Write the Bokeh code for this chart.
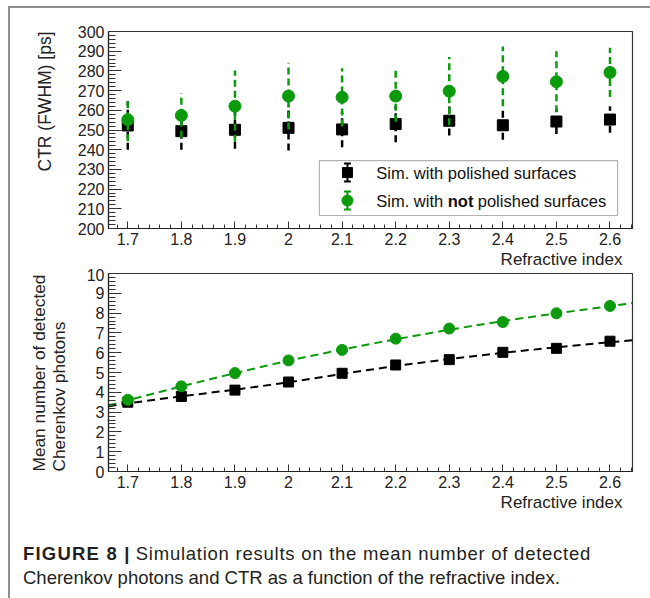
from bokeh.plotting import figure
from bokeh.models import FixedTicker, Label, BoxAnnotation, Whisker, ColumnDataSource, Div, Range1d, TeeHead, Title
from bokeh.layouts import column
from bokeh.embed import file_html
from bokeh.resources import INLINE

# ---------------- data ----------------
refractive_index = [1.7, 1.8, 1.9, 2.0, 2.1, 2.2, 2.3, 2.4, 2.5, 2.6]
x_tick_labels = ["1.7", "1.8", "1.9", "2", "2.1", "2.2", "2.3", "2.4", "2.5", "2.6"]

ctr_polished = [252.3, 249.4, 250.1, 251.1, 250.3, 253.0, 254.7, 252.4, 254.3, 255.3]
ctr_polished_err = [12.3, 9.4, 9.6, 11.5, 9.0, 9.2, 7.5, 7.4, 6.3, 6.7]
ctr_not_polished = [255.2, 257.4, 262.1, 267.2, 266.6, 267.2, 269.7, 277.2, 274.5, 279.2]
ctr_not_polished_err = [10.9, 11.3, 18.1, 16.9, 14.8, 13.0, 17.3, 15.2, 15.5, 12.5]

photons_polished = [3.50, 3.79, 4.11, 4.52, 4.96, 5.38, 5.65, 6.02, 6.22, 6.58]
photons_not_polished = [3.62, 4.30, 4.97, 5.61, 6.14, 6.71, 7.22, 7.55, 7.99, 8.36]

fit_index = [1.664, 1.7, 1.8, 1.9, 2.0, 2.1, 2.2, 2.3, 2.4, 2.5, 2.6, 2.642]
fit_polished = [3.30, 3.44, 3.80, 4.13, 4.50, 4.93, 5.33, 5.68, 6.00, 6.27, 6.53, 6.63]
fit_not_polished = [3.33, 3.60, 4.30, 4.97, 5.60, 6.16, 6.68, 7.16, 7.60, 7.99, 8.35, 8.51]

ctr_ticks = [200, 210, 220, 230, 240, 250, 260, 270, 280, 290, 300]
photon_ticks = [0, 1, 2, 3, 4, 5, 6, 7, 8, 9, 10]

legend_labels = ["Sim. with polished surfaces", "Sim. with ", "not", "polished surfaces"]
x_title = "Refractive index"
ctr_title = "CTR (FWHM) [ps]"
photon_title = ["Mean number of detected", "Cherenkov photons"]

# ---------------- style ----------------
FONT = "Liberation Sans"
GREEN = "#0b9a0b"
X0, X1 = 1.664, 2.642
x_minor = [round(1.66 + 0.02 * i, 2) for i in range(50)]


def style(p, yticks, yminor):
    p.xgrid.visible = False
    p.ygrid.visible = False
    p.outline_line_color = "#333333"
    p.outline_line_width = 1.2
    p.background_fill_color = "white"
    p.border_fill_color = "white"
    p.xaxis.ticker = FixedTicker(ticks=refractive_index, minor_ticks=x_minor)
    p.xaxis.major_label_overrides = dict(zip(refractive_index, x_tick_labels))
    p.yaxis.ticker = FixedTicker(ticks=yticks, minor_ticks=yminor)
    for ax in (p.xaxis[0], p.yaxis[0]):
        ax.axis_line_color = "#222222"
        ax.axis_line_width = 1.2
        ax.major_tick_out = 0
        ax.minor_tick_out = 0
        ax.major_tick_line_color = "#333333"
        ax.minor_tick_line_color = "#333333"
        ax.major_label_text_font = FONT
        ax.major_label_text_font_size = "16px"
        ax.major_label_text_color = "#222222"
        ax.major_label_standoff = 4
    p.xaxis.major_tick_in = 7
    p.xaxis.minor_tick_in = 4
    p.yaxis.major_tick_in = 13
    p.yaxis.minor_tick_in = 7


def title(text, align, offset, standoff, size="17px"):
    return Title(text=text, align=align, offset=offset, standoff=standoff,
                 text_font=FONT, text_font_size=size, text_font_style="normal",
                 text_color="#222222")


# ---------------- top plot: CTR ----------------
top = figure(width=640, height=260, output_backend="svg", toolbar_location=None,
             x_range=Range1d(X0, X1), y_range=Range1d(200, 300),
             min_border_left=98, min_border_right=15, min_border_top=23, min_border_bottom=34)
style(top, ctr_ticks, [200 + 2 * i for i in range(51)])

pol_lo = [v - e for v, e in zip(ctr_polished, ctr_polished_err)]
pol_hi = [v + e for v, e in zip(ctr_polished, ctr_polished_err)]
not_lo = [v - e for v, e in zip(ctr_not_polished, ctr_not_polished_err)]
not_hi = [v + e for v, e in zip(ctr_not_polished, ctr_not_polished_err)]

top.segment(x0=refractive_index, y0=pol_lo, x1=refractive_index, y1=pol_hi,
            line_color="black", line_width=2.5, line_dash="7 4")
top.scatter(refractive_index, ctr_polished, marker="square", size=11, color="black")
top.segment(x0=refractive_index, y0=not_lo, x1=refractive_index, y1=not_hi,
            line_color=GREEN, line_width=2.5, line_dash="7 4")
top.scatter(refractive_index, ctr_not_polished, marker="circle", size=12, color=GREEN)


# legend (layout fractions of the frame)
def fx(f):
    return X0 + f * (X1 - X0)


def fy(f):
    return 200 + f * 100


box = BoxAnnotation(left=fx(0.4025), right=fx(0.9715), bottom=fy(0.066), top=fy(0.345),
                    fill_color="white", fill_alpha=1.0, line_color="black", line_width=1.2,
                    level="underlay")
top.add_layout(box)
leg_x = fx(0.456)
leg_y = [fy(0.284), fy(0.142)]
for i, (col, mk, sz) in enumerate([("black", "square", 10), (GREEN, "circle", 11)]):
    src = ColumnDataSource(dict(x=[leg_x], y=[leg_y[i]], lo=[leg_y[i] - 4.6], hi=[leg_y[i] + 4.6]))
    top.add_layout(Whisker(source=src, base="x", lower="lo", upper="hi", dimension="height",
                           line_color=col, line_width=2,
                           upper_head=TeeHead(size=7, line_color=col, line_width=2),
                           lower_head=TeeHead(size=7, line_color=col, line_width=2)))
    top.scatter(x="x", y="y", source=src, marker=mk, size=sz, color=col)

tx = fx(0.511)
common = dict(text_font=FONT, text_font_size="16.5px", text_baseline="middle", text_color="#111111")
top.add_layout(Label(x=tx, y=leg_y[0], text=legend_labels[0], **common))
top.add_layout(Label(x=tx, y=leg_y[1], text=legend_labels[1], **common))
top.add_layout(Label(x=tx, y=leg_y[1], x_offset=71.5, text=legend_labels[2],
                     text_font_style="bold", **common))
top.add_layout(Label(x=tx, y=leg_y[1], x_offset=101.5, text=legend_labels[3], **common))

top.add_layout(title(x_title, "right", 10, 0), "below")
top.add_layout(title(ctr_title, "right", 0, 40, "17.5px"), "left")

# ---------------- bottom plot: photons ----------------
bot = figure(width=640, height=247, output_backend="svg", toolbar_location=None,
             x_range=Range1d(X0, X1), y_range=Range1d(0, 10),
             min_border_left=95, min_border_right=18, min_border_top=5, min_border_bottom=44)
style(bot, photon_ticks, [0.2 * i for i in range(51)])

bot.line(fit_index, fit_polished, line_color="black", line_width=2, line_dash="8 5")
bot.line(fit_index, fit_not_polished, line_color=GREEN, line_width=2, line_dash="8 5")
bot.scatter(refractive_index, photons_polished, marker="square", size=10, color="black")
bot.scatter(refractive_index, photons_not_polished, marker="circle", size=11, color=GREEN)

bot.add_layout(title(x_title, "right", 10, 0), "below")
bot.add_layout(title(photon_title[0] + "\n" + photon_title[1], "left", 0, 30, "17.3px"), "left")

caption = Div(text='<b style="letter-spacing:1.2px">FIGURE 8 |</b> '
                   '<span style="letter-spacing:0.75px">Simulation results on the mean number of detected</span><br>'
                   'Cherenkov photons and CTR as a function of the refractive index.',
              width=640, height=80,
              styles={"font-family": "Liberation Sans", "font-size": "18.5px", "line-height": "24px",
                      "padding": "22px 0px 0px 8px", "color": "#231f20", "box-sizing": "border-box"})

layout = column(top, bot, caption,
                styles={"border-top": "2px solid #8f8f8f", "border-left": "2px solid #8f8f8f",
                        "margin-left": "8px", "margin-top": "6px"})

open("out.html", "w").write(file_html(layout, INLINE))
